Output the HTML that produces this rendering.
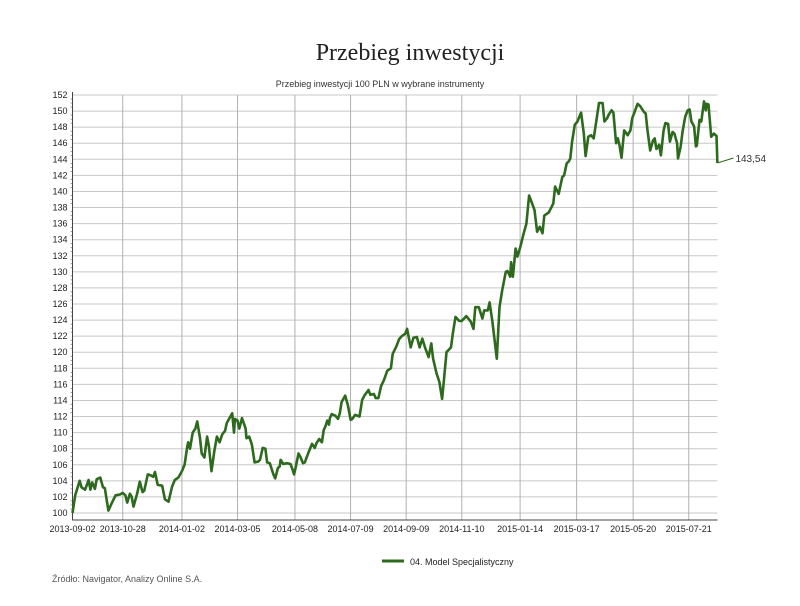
<!DOCTYPE html>
<html><head><meta charset="utf-8"><style>
body{margin:0;background:#fff;width:800px;height:601px;overflow:hidden;font-family:"Liberation Sans",sans-serif}
</style></head><body>
<svg id="chart" width="800" height="601" xmlns="http://www.w3.org/2000/svg">
<text x="410" y="60" text-anchor="middle" font-family="Liberation Serif, serif" font-size="24" fill="#222">Przebieg inwestycji</text>
<text x="380" y="87" text-anchor="middle" font-size="9" fill="#333">Przebieg inwestycji 100 PLN w wybrane instrumenty</text>
<g id="grid"></g><g id="axes"></g><g id="series"></g>
<g>
<line x1="382" y1="561" x2="404" y2="561" stroke="#2d6a1e" stroke-width="3"/>
<text x="410" y="565" font-size="9" fill="#222">04. Model Specjalistyczny</text>
</g>
<text x="52" y="582" font-size="9" fill="#555">Źródło: Navigator, Analizy Online S.A.</text>
</svg>
<script>
const days=[0,3,8,10,14,18,20,22,24,25,27,31,34,36,40,44,48,53,56,59,61,64,66,68,72,75,78,80,84,87,90,92,95,100,103,107,111,114,118,122,125,128,129,131,134,137,139,142,144,147,150,152,155,158,161,164,167,170,172,174,178,180,181,184,186,189,193,194,197,200,203,207,209,212,215,217,220,224,226,229,231,232,235,239,243,245,247,249,252,254,257,259,263,267,270,272,275,278,280,282,284,286,287,289,293,296,298,300,304,307,310,312,315,320,323,326,330,332,336,338,341,344,347,351,355,357,361,364,367,371,373,377,380,384,387,390,393,397,400,402,406,409,412,414,417,422,424,427,431,434,439,444,447,449,453,457,459,463,465,468,473,476,479,483,485,488,489,491,494,496,499,503,506,509,513,515,518,521,524,526,531,536,538,542,546,548,551,553,555,557,560,563,565,567,570,572,575,578,581,583,587,591,593,596,598,601,603,606,608,610,612,615,619,622,624,628,630,633,637,639,641,644,647,649,651,654,656,659,661,664,666,669,671,674,675,678,680,683,686,688,690,693,695,696,699,701,704,706,707,709,712,715,718,719];
const values=[100,102.2,104,103.2,102.9,104.1,102.9,103.8,103.3,103,104.2,104.4,103.2,103.1,100.3,101.3,102.2,102.3,102.5,102.2,101.3,102.4,102,100.8,102.4,103.9,102.6,102.8,104.8,104.7,104.5,105.1,103.5,103.4,101.7,101.4,103.3,104.1,104.4,105.2,106,108.3,108.8,108,110,110.5,111.4,109.4,107.4,106.9,109.5,108.4,105.2,107.6,109.5,108.8,109.8,110.2,111.2,111.6,112.4,110,111.7,111.5,110.5,111.8,110.5,109.3,109.5,108.5,106.3,106.4,106.6,108.1,108,106.3,106.2,104.8,104.3,105.6,105.8,106.6,106.1,106.2,106.1,105.5,104.8,105.8,107.4,107,106.2,106.3,107.5,108.6,108.1,108.7,109.2,108.8,110.3,110.8,111.5,111,111.8,112.3,112.1,111.7,112.4,113.8,114.6,113.4,111.6,111.7,112.2,112,114.1,114.7,115.3,114.7,114.8,114.3,114.3,115.8,116.5,117.7,118,119.8,120.7,121.6,122,122.3,122.9,120.6,121.8,121.9,120.6,121.7,120.6,119.4,121.1,119.2,117.3,116.3,114.2,116.5,120,120.6,122.3,124.4,123.9,123.9,124.5,123.8,122.9,125.6,125.6,124.2,125.2,125.2,126.2,123.9,119.2,125.6,127.7,130,130.1,129.4,131.2,129.4,132.9,131.9,133,134.8,136,139.5,138.3,137.7,135,135.6,134.8,137,137.4,138.5,140.6,139.7,141.8,142,143.5,143.7,144.1,146.2,148.3,148.7,149.3,149.8,147.2,144.4,146.8,147,146.6,148.1,151,151,148.7,149.1,149.6,150.1,149.8,146,146.6,145.6,144.2,147.6,147,147.6,149.1,150.3,150.9,150.6,149.9,149.7,147.6,145.1,146.3,146.6,145.3,145.8,144.5,147.6,148.5,148.4,146.2,147.4,147.2,146,144.1,145.6,147.4,149.3,150.1,150.2,148.7,148.1,145.6,145.7,148.9,148.7,151.2,150.1,150.9,150.8,146.8,147.2,146.9,143.54];
const xTickLabels=["2013-09-02","2013-10-28","2014-01-02","2014-03-05","2014-05-08","2014-07-09","2014-09-09","2014-11-10","2015-01-14","2015-03-17","2015-05-20","2015-07-21"];
const xTickDays=[0,56,122,184,248,310,372,434,499,562,625,687];
const yTicks=[100,102,104,106,108,110,112,114,116,118,120,122,124,126,128,130,132,134,136,138,140,142,144,146,148,150,152];
const lastLabel="143,54";
const L=72.5,R=717.5,T=95,B=520;
const xs=d=>L+d*0.897;
const ys=v=>513-(v-100)*(418/52);
const NS="http://www.w3.org/2000/svg";
function mk(tag,parent,attrs){const e=document.createElementNS(NS,tag);for(const k in attrs)e.setAttribute(k,attrs[k]);parent.appendChild(e);return e;}
const grid=document.getElementById('grid'),axes=document.getElementById('axes'),series=document.getElementById('series');
yTicks.forEach(v=>{
  const l=mk('line',grid,{x1:L,x2:R,y1:ys(v),y2:ys(v),stroke:'#c8c8c8','stroke-width':1});
  
  
  const t=mk('text',axes,{x:L-5,y:ys(v)+3,'text-anchor':'end','font-size':9,fill:'#222'});
  t.textContent=v;
  
  
  for(let i=1;i<4&&v<152;i++){mk('line',axes,{x1:L-2,x2:L,y1:ys(v+i*0.5),y2:ys(v+i*0.5),stroke:'#666','stroke-width':0.6});}
});
xTickDays.forEach((d,i)=>{
  const l=mk('line',grid,{x1:xs(d),x2:xs(d),y1:T,y2:B,stroke:'#b0b0b0','stroke-width':1});
  
  
  const t=mk('text',axes,{x:xs(d),y:532,'text-anchor':'middle','font-size':9,fill:'#222'});
  t.textContent=xTickLabels[i];
  
  
});
const ax=mk('path',axes,{d:`M${L},${T-3}V${B}H${R}`,stroke:'#444',fill:'none','stroke-width':1});


const pts=days.map((d,i)=>xs(d).toFixed(1)+','+ys(values[i]).toFixed(1)).join(' ');
const line=mk('polyline',series,{points:pts,fill:'none',stroke:'#2d6a1e','stroke-width':2.6,'stroke-linejoin':'round'});


const lx=xs(days[days.length-1]),ly=ys(values[values.length-1]);
const ll=mk('line',series,{x1:lx,y1:ly,x2:lx+16,y2:ly-5,stroke:'#2d6a1e','stroke-width':1});


const lt=mk('text',series,{x:lx+18,y:ly-1,'font-size':10,fill:'#333'});
lt.textContent=lastLabel;


</script>
</body></html>
